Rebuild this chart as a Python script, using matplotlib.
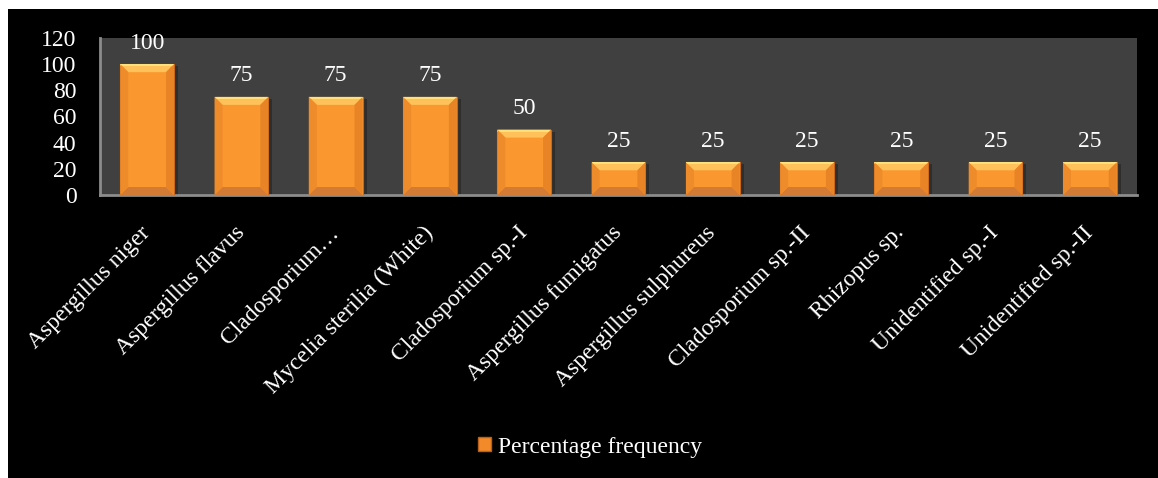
import numpy as np
import matplotlib
matplotlib.use('Agg')
from matplotlib import pyplot as plt
from matplotlib.patches import Polygon, Rectangle

# data
species = ['Aspergillus niger', 'Aspergillus flavus', 'Cladosporium\u2026',
           'Mycelia sterilia (White)', 'Cladosporium sp.-I', 'Aspergillus fumigatus',
           'Aspergillus sulphureus', 'Cladosporium sp.-II', 'Rhizopus sp.',
           'Unidentified sp.-I', 'Unidentified sp.-II']
freq = [100, 75, 75, 75, 50, 25, 25, 25, 25, 25, 25]
yticks = [0, 20, 40, 60, 80, 100, 120]
series_name = 'Percentage frequency'

plt.rcParams['font.family'] = ['Liberation Serif', 'DejaVu Serif']
fs = 17

fig = plt.figure(figsize=(11.58, 4.78), dpi=100, facecolor='white')
# black chart area
fig.patches.append(Rectangle((8/1158, 0), 1, 1 - 9/478, transform=fig.transFigure,
                             facecolor='black', edgecolor='none', zorder=-10))

ax = fig.add_axes([100/1158, 1 - 195/478, 1037/1158, 157/478])
ax.set_facecolor('#404040')

x = np.arange(len(species))
bars = ax.bar(x, freq, width=0.57, color='#FA982F', edgecolor='#C8661A',
              linewidth=0.8, zorder=3)

# bevel look on each bar
ppx = 1.0 / 94.3          # data x per pixel
ppy = 120.0 / 157         # data y per pixel
bx, by = 8 * ppx, 8 * ppy
for b in bars:
    x0, w, h = b.get_x(), b.get_width(), b.get_height()
    x1 = x0 + w
    # shadow
    ax.add_patch(Rectangle((x1, 0), 4 * ppx, h - 2 * ppy, facecolor='#2e2e2e',
                           edgecolor='none', zorder=2))
    ax.add_patch(Polygon([(x0, h), (x1, h), (x1 - bx, h - by), (x0 + bx, h - by)],
                         closed=True, facecolor='#FFC25A', edgecolor='none', zorder=4))
    ax.add_patch(Rectangle((x0, h - 2 * ppy), w, 2 * ppy, facecolor='#FFE07A',
                           edgecolor='none', zorder=4))
    ax.add_patch(Polygon([(x0, 0), (x1, 0), (x1 - bx, by), (x0 + bx, by)],
                         closed=True, facecolor='#D37A34', edgecolor='none', zorder=4))
    ax.add_patch(Polygon([(x0, 0), (x0 + bx, by), (x0 + bx, h - by), (x0, h)],
                         closed=True, facecolor='#EE8B2A', edgecolor='none', zorder=4))
    ax.add_patch(Polygon([(x1, 0), (x1 - bx, by), (x1 - bx, h - by), (x1, h)],
                         closed=True, facecolor='#E88426', edgecolor='none', zorder=4))
    ax.text(b.get_x() + w / 2, h + 8, str(int(h)), ha='center', va='bottom',
            color='white', fontsize=fs, zorder=5)

ax.set_xlim(-0.5, len(species) - 0.5)
ax.set_ylim(0, 120)
ax.set_yticks(yticks)
ax.set_yticklabels([str(v) for v in yticks], color='white', fontsize=fs)
ax.set_xticks(x)
ax.set_xticklabels(species, rotation=45, ha='right', va='center',
                   rotation_mode='anchor', color='white', fontsize=fs)
ax.tick_params(axis='y', length=0, pad=17)
ax.tick_params(axis='x', length=0, pad=25)
for s in ['top', 'right']:
    ax.spines[s].set_visible(False)
for s in ['left', 'bottom']:
    ax.spines[s].set_color('#8c8c8c')
    ax.spines[s].set_linewidth(2)

handle = Rectangle((0, 0), 1, 1, facecolor='#F28A2A', edgecolor='#B8601A')
leg = fig.legend([handle], [series_name], loc='center', bbox_to_anchor=(590/1158, 1 - 447/478),
                 frameon=False, fontsize=fs, handlelength=0.55, handleheight=0.55,
                 handletextpad=0.3)
for t in leg.get_texts():
    t.set_color('white')

fig.savefig('out.png', dpi=100, facecolor=fig.get_facecolor())
